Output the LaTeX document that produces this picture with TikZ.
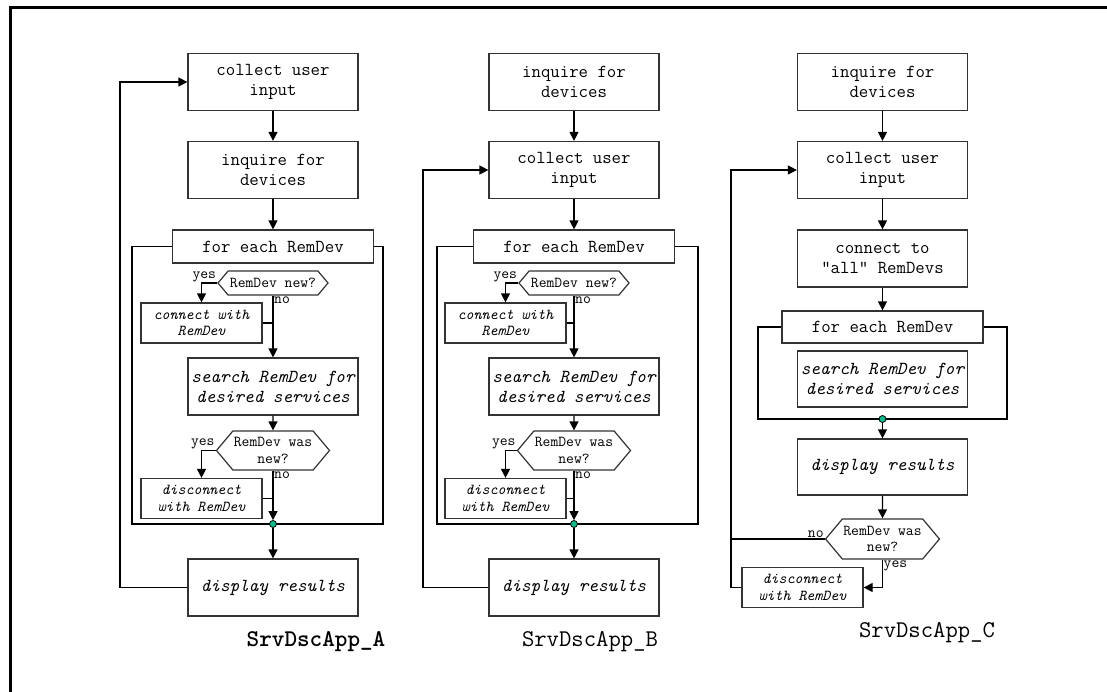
\documentclass[tikz,border=0pt]{standalone}
\usepackage{fontspec}
\usetikzlibrary{arrows.meta, shapes.symbols}
\tikzset{>={Triangle[length=9pt,width=9pt]}}
\definecolor{joingreen}{RGB}{0,190,140}
\newcommand\boxfont{\ttfamily\fontsize{18.3}{20}\selectfont}
\newcommand\hexfont{\ttfamily\fontsize{15.2}{16.5}\selectfont}
\newcommand\namefont{\ttfamily\fontsize{24}{26}\selectfont}
\def\boxwidth{170}
\def\boxheight{57}
\def\subwidth{121}
\def\subheight{40}
\tikzset{
  stepbox/.style={draw=black!80, line width=1.2pt, minimum width=\boxwidth, minimum height=\boxheight, inner sep=0pt, align=center, font=\boxfont},
  actbox/.style={stepbox, font=\boxfont\itshape},
  subbox/.style={stepbox, minimum width=\subwidth, minimum height=\subheight, font=\hexfont\itshape},
  loopbox/.style={stepbox, minimum width=201, minimum height=33},
  test/.style={draw=black!80, line width=1.2pt, shape=signal, signal to=west and east, signal pointer angle=100, inner sep=1pt, minimum width=110, minimum height=24, align=center, font=\hexfont},
  flow/.style={line width=1.2pt},
  joindot/.style={circle, draw=black, fill=joingreen, line width=0.8pt, inner sep=0pt, minimum size=7},
  tag/.style={font=\hexfont, inner sep=1pt},
}

\begin{document}
\begin{tikzpicture}[x=1pt,y=-1pt]
\useasboundingbox (0,0) rectangle (1107,691);

% frame
\draw[line width=3pt] (10,700) -- (10,7) -- (1120,7);

% SrvDscApp_A
\node[stepbox] (colA) at (273,82) {collect user\\input};
\node[stepbox] (inqA) at (273,170) {inquire for\\devices};
\node[loopbox] (forA) at (273,246.5) {for each RemDev};
\node[test] (newA) at (273,283) {RemDev new?};
\node[subbox] (conA) at (201.5,323) {connect with\\RemDev};
\node[actbox] (srchA) at (273,386.5) {search RemDev for\\desired services};
\node[test, minimum width=107, minimum height=39] (wasA) at (273,450.5) {RemDev was\\new?};
\node[subbox] (disA) at (201.5,498.5) {disconnect\\with RemDev};
\node[actbox] (dispA) at (273,587.5) {display results};
\coordinate (loopA_left) at (132,524);
\coordinate (loopA_right) at (383,524);
\coordinate (backA) at (120,0);

\draw[flow, ->] (colA) -- (inqA);
\draw[flow, ->] (inqA) -- (forA);
\draw[flow] (forA.west) -| (loopA_left) -- (loopA_right) |- (forA.east);
\node[joindot] (dotA) at (273,524) {};
\draw[flow, ->] (newA.west) -| (conA.north);
\draw[flow, ->] (newA.south) -- (srchA.north);
\draw[flow] (conA.east) -- (conA.east -| newA.south);
\draw[flow, ->] (srchA) -- (wasA);
\draw[flow, ->] (wasA.west) -| (disA.north);
\draw[flow, ->] (wasA.south) -- (dotA);
\draw[flow] (disA.east) -- (disA.east -| wasA.south);
\draw[flow, ->] (dotA) -- (dispA);
\draw[flow, ->] (dispA.west) -- (dispA.west -| backA) |- (colA.west);
\node[tag, anchor=south east] (yesA1) at (newA.west) {yes};
\node[tag, anchor=north west] (noA1) at (newA.south) {no};
\node[tag, anchor=south east] (yesA2) at (wasA.west) {yes};
\node[tag, anchor=north west] (noA2) at (wasA.south) {no};
\node[font=\namefont\bfseries] (nameA) at (316,642) {SrvDscApp\_A};

% SrvDscApp_B
\node[stepbox] (inqB) at (574,82) {inquire for\\devices};
\node[stepbox] (colB) at (574,170) {collect user\\input};
\node[loopbox] (forB) at (574,246.5) {for each RemDev};
\node[test] (newB) at (574,283) {RemDev new?};
\node[subbox] (conB) at (505.5,323) {connect with\\RemDev};
\node[actbox] (srchB) at (574,386.5) {search RemDev for\\desired services};
\node[test, minimum width=107, minimum height=39] (wasB) at (574,450.5) {RemDev was\\new?};
\node[subbox] (disB) at (505.5,498.5) {disconnect\\with RemDev};
\node[actbox] (dispB) at (574,587.5) {display results};
\coordinate (loopB_left) at (437,524);
\coordinate (loopB_right) at (698,524);
\coordinate (backB) at (423,0);

\draw[flow, ->] (inqB) -- (colB);
\draw[flow, ->] (colB) -- (forB);
\draw[flow] (forB.west) -| (loopB_left) -- (loopB_right) |- (forB.east);
\node[joindot] (dotB) at (574,524) {};
\draw[flow, ->] (newB.west) -| (conB.north);
\draw[flow, ->] (newB.south) -- (srchB.north);
\draw[flow] (conB.east) -- (conB.east -| newB.south);
\draw[flow, ->] (srchB) -- (wasB);
\draw[flow, ->] (wasB.west) -| (disB.north);
\draw[flow, ->] (wasB.south) -- (dotB);
\draw[flow] (disB.east) -- (disB.east -| wasB.south);
\draw[flow, ->] (dotB) -- (dispB);
\draw[flow, ->] (dispB.west) -- (dispB.west -| backB) |- (colB.west);
\node[tag, anchor=south east] (yesB1) at (newB.west) {yes};
\node[tag, anchor=north west] (noB1) at (newB.south) {no};
\node[tag, anchor=south east] (yesB2) at (wasB.west) {yes};
\node[tag, anchor=north west] (noB2) at (wasB.south) {no};
\node[font=\namefont] (nameB) at (590,642) {SrvDscApp\_B};

% SrvDscApp_C
\node[stepbox] (inqC) at (882.5,82) {inquire for\\devices};
\node[stepbox] (colC) at (882.5,170) {collect user\\input};
\node[stepbox] (conC) at (882.5,258.5) {connect to\\“all” RemDevs};
\node[loopbox, minimum height=32] (forC) at (882.5,327) {for each RemDev};
\node[actbox, minimum height=56] (srchC) at (882.5,379) {search RemDev for\\desired services};
\node[actbox, minimum height=56] (dispC) at (882.5,467) {display results};
\node[test, minimum width=105, minimum height=40] (wasC) at (882.5,539) {RemDev was\\new?};
\node[subbox] (disC) at (802.5,587.5) {disconnect\\with RemDev};
\coordinate (loopC_left) at (758,419);
\coordinate (loopC_right) at (1007,419);
\coordinate (backC) at (731,0);

\draw[flow, ->] (inqC) -- (colC);
\draw[flow, ->] (colC) -- (conC);
\draw[flow, ->] (conC) -- (forC);
\draw[flow] (forC.west) -| (loopC_left) -- (loopC_right) |- (forC.east);
\node[joindot] (dotC) at (882.5,419) {};
\draw[flow, ->] (dotC) -- (dispC);
\draw[flow, ->] (dispC) -- (wasC);
\draw[flow, ->] (wasC.south) |- (disC.east);
\draw[flow] (wasC.west) -- (wasC.west -| backC);
\draw[flow, ->] (disC.west) -- (disC.west -| backC) |- (colC.west);
\node[tag, anchor=south east] (noC) at (wasC.west) {no};
\node[tag, anchor=north west] (yesC) at (wasC.south) {yes};
\node[font=\namefont] (nameC) at (927,633) {SrvDscApp\_C};

\end{tikzpicture}
\end{document}
